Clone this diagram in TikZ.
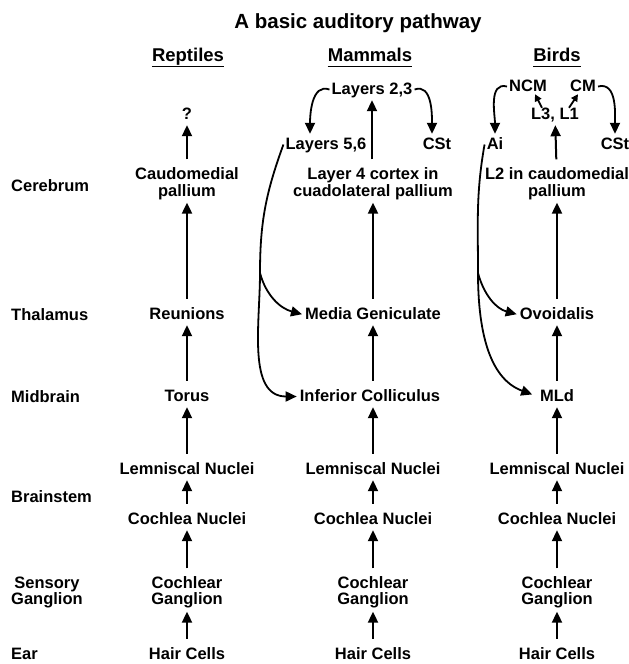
\documentclass[tikz,border=0pt]{standalone}
\usepackage{fontspec}
\setmainfont{Liberation Sans}
\usetikzlibrary{arrows.meta}

\tikzset{
  txt/.style={font=\fontsize{16.5}{16.5}\selectfont\bfseries, inner sep=2pt},
  lbl/.style={txt, text height=12pt, text depth=3pt},
  lbltwo/.style={txt, align=center},
  rowlbl/.style={txt, anchor=west, align=center},
  ttl/.style={font=\fontsize{20.5}{22}\selectfont\bfseries},
  head/.style={font=\fontsize{18.5}{20}\selectfont\bfseries, inner sep=0pt, text height=13pt, text depth=5pt},
  uline/.style={line width=1.5pt},
  uparr/.style={line width=2pt, -{Triangle[length=11pt,width=10pt]}, shorten <=6pt, shorten >=1pt},
  curvarr/.style={line width=1.8pt, -{Triangle[length=11pt,width=10pt]}, shorten >=1pt},
  shortarr/.style={line width=1.8pt, -{Triangle[length=7pt,width=7pt]}},
}

\begin{document}
\begin{tikzpicture}[x=1pt,y=1pt]
            \useasboundingbox (0,0) rectangle (629,-664);
            %
            \node[ttl] (title) at (358,-23.5) {A basic auditory pathway};
            %
            \node[head] (hrep) at (188,-57.5) {Reptiles};
            \node[head] (hmam) at (370,-57.5) {Mammals};
            \node[head] (hbird) at (557,-57.5) {Birds};
            \draw[uline] (hrep.south west) -- (hrep.south east);
            \draw[uline] (hmam.south west) -- (hmam.south east);
            \draw[uline] (hbird.south west) -- (hbird.south east);
            %
            \node[rowlbl] (cereb) at (9,-185.5) {Cerebrum};
            \node[rowlbl] (thal) at (9,-314.5) {Thalamus};
            \node[rowlbl] (midb) at (9,-396.5) {Midbrain};
            \node[rowlbl] (brain) at (9,-496.5) {Brainstem};
            \node[rowlbl] (sens) at (9,-592.5) {Sensory\\Ganglion};
            \node[rowlbl] (ear) at (9,-653.5) {Ear};
            %
            \node[lbl] (rq) at (187,-114.5) {?};
            \node[lbltwo] (rpal) at (187,-183.5) {Caudomedial\\pallium};
            \node[lbl] (rreu) at (187,-314.5) {Reunions};
            \node[lbl] (rtor) at (187,-396.5) {Torus};
            \node[lbl] (rlem) at (187,-469.5) {Lemniscal Nuclei};
            \node[lbl] (rcoc) at (187,-519.5) {Cochlea Nuclei};
            \node[lbltwo] (rgan) at (187,-592.5) {Cochlear\\Ganglion};
            \node[lbl] (rhair) at (187,-654.5) {Hair Cells};
            %
            \draw[uparr] (rpal) -- (rq);
            \draw[uparr] (rreu) -- (rpal);
            \draw[uparr] (rtor) -- (rreu);
            \draw[uparr] (rlem) -- (rtor);
            \draw[uparr] (rcoc) -- (rlem);
            \draw[uparr] (rgan) -- (rcoc);
            \draw[uparr] (rhair) -- (rgan);
            %
            \node[lbl] (m23) at (372,-89.5) {Layers 2,3};
            \node[lbl] (m56) at (326,-144.5) {Layers 5,6};
            \node[lbl] (mcst) at (437,-144.5) {CSt};
            \node[lbltwo] (m4) at (373,-183.5) {Layer 4 cortex in\\cuadolateral pallium};
            \node[lbl] (mmg) at (373,-314.5) {Media Geniculate};
            \node[lbl] (mic) at (370,-396.5) {Inferior Colliculus};
            \node[lbl] (mlem) at (373,-469.5) {Lemniscal Nuclei};
            \node[lbl] (mcoc) at (373,-519.5) {Cochlea Nuclei};
            \node[lbltwo] (mgan) at (373,-592.5) {Cochlear\\Ganglion};
            \node[lbl] (mhair) at (373,-654.5) {Hair Cells};
            %
            \draw[uparr] (m4.north -| m23) -- (m23);
            \draw[uparr] (mmg) -- (m4);
            \draw[uparr] (mic.north -| mmg) -- (mmg);
            \draw[uparr] (mlem) -- (mic.south -| mlem);
            \draw[uparr] (mcoc) -- (mlem);
            \draw[uparr] (mgan) -- (mcoc);
            \draw[uparr] (mhair) -- (mgan);
            %
            \draw[curvarr] (m23.west) to[out=160,in=90] ([xshift=-16pt]m56.north);
            \draw[curvarr] (m23.east) to[out=20,in=90] ([xshift=-5pt]mcst.north);
            \coordinate (mfork) at (260,-273);
            \draw[curvarr] (m56.west) to[out=250,in=90] (mfork) to[out=-90,in=180] (mic.west);
            \draw[curvarr] (mfork) to[out=-75,in=165] (mmg.west);
            %
            \node[lbl] (bncm) at (528,-86.5) {NCM};
            \node[lbl] (bcm) at (583,-86.5) {CM};
            \node[lbl] (bl31) at (555,-114.5) {L3, L1};
            \node[lbl] (bai) at (495,-144.5) {Ai};
            \node[lbl] (bcst) at (615,-144.5) {CSt};
            \node[lbltwo] (bl2) at (557,-183.5) {L2 in caudomedial\\pallium};
            \node[lbl] (bov) at (557,-314.5) {Ovoidalis};
            \node[lbl] (bmld) at (557,-396.5) {MLd};
            \node[lbl] (blem) at (557,-469.5) {Lemniscal Nuclei};
            \node[lbl] (bcoc) at (557,-519.5) {Cochlea Nuclei};
            \node[lbltwo] (bgan) at (557,-592.5) {Cochlear\\Ganglion};
            \node[lbl] (bhair) at (557,-654.5) {Hair Cells};
            %
            \draw[uparr] (bl2) -- (bl31);
            \draw[uparr] (bov) -- (bl2);
            \draw[uparr] (bmld) -- (bov);
            \draw[uparr] (blem) -- (bmld);
            \draw[uparr] (bcoc) -- (blem);
            \draw[uparr] (bgan) -- (bcoc);
            \draw[uparr] (bhair) -- (bgan);
            %
            \draw[shortarr] ([shift={(-13pt,-3pt)}]bl31.north) -- ([shift={(7pt,2pt)}]bncm.south);
            \draw[shortarr] ([shift={(14pt,-3pt)}]bl31.north) -- ([shift={(-5pt,2pt)}]bcm.south);
            \draw[curvarr] (bncm.west) to[out=165,in=90] (bai.north);
            \draw[curvarr] (bcm.east) to[out=15,in=90] (bcst.north);
            \coordinate (bfork) at (478,-273);
            \draw[curvarr, shorten >=6pt] (bai.west) to[out=260,in=90] (bfork) to[out=-90,in=160] (bmld.west);
            \draw[curvarr] (bfork) to[out=-75,in=165] (bov.west);
\end{tikzpicture}
\end{document}
